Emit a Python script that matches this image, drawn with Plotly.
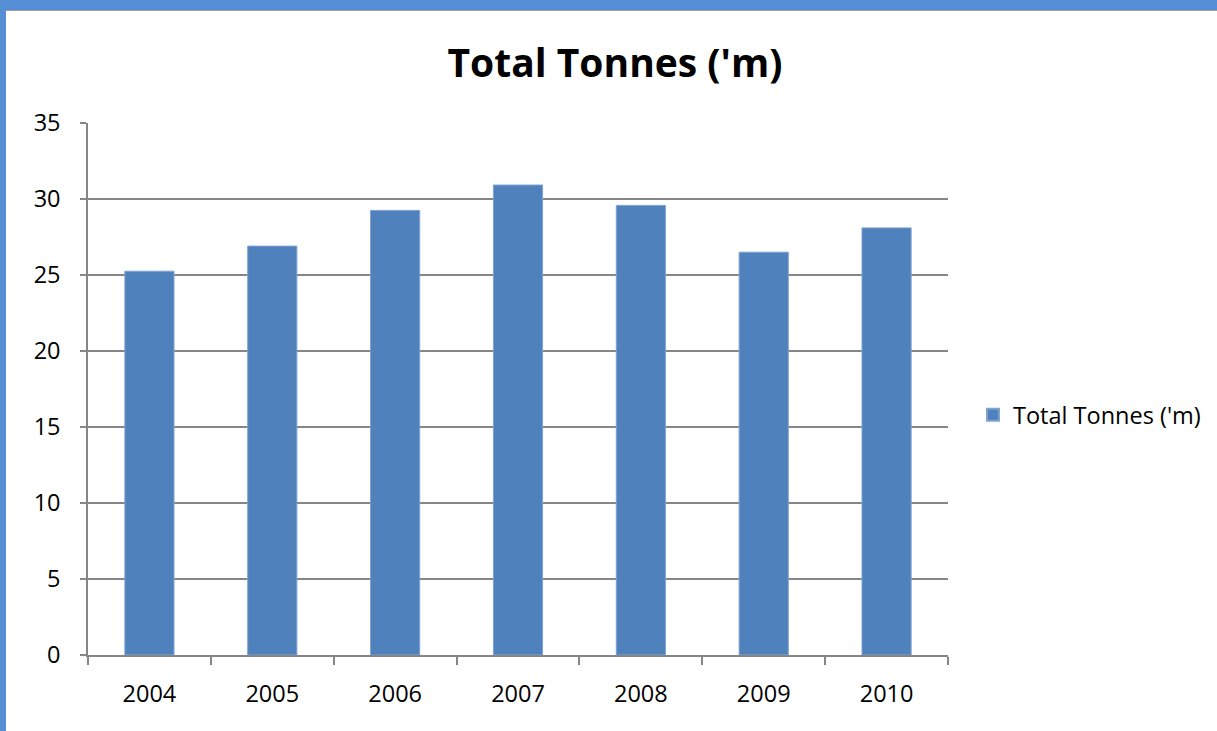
import plotly.graph_objects as go

years = ["2004", "2005", "2006", "2007", "2008", "2009", "2010"]
tonnes = [25.25, 26.9, 29.25, 30.92, 29.58, 26.5, 28.1]
y_ticks = [0, 5, 10, 15, 20, 25, 30, 35]
series_name = "Total Tonnes ('m)"
title_text = "Total Tonnes ('m)"

W, H = 1217, 731
L, R, T, B = 88, 948, 123, 655  # plot area pixel bounds


def px(x):
    return (x - L) / (R - L)


def py(y):
    return (B - y) / (B - T)


FONT = "Open Sans"
GRID = "#868686"
BLUE_FRAME = "#558ED5"

fig = go.Figure()
fig.add_trace(go.Bar(
    x=years, y=tonnes, name=series_name,
    marker=dict(color="#4F81BD", line=dict(color="#7FA2D0", width=1)),
    showlegend=True,
))

shapes = [
    dict(type="rect", xref="paper", yref="paper", x0=px(0), x1=px(W), y0=py(0), y1=py(10),
         fillcolor=BLUE_FRAME, line=dict(width=0), layer="above"),
    dict(type="line", xref="paper", yref="paper", x0=px(6), x1=px(W), y0=py(10.5), y1=py(10.5),
         line=dict(color="#A0A0A0", width=1.2), layer="above"),
    dict(type="rect", xref="paper", yref="paper", x0=px(0), x1=px(6), y0=py(0), y1=py(H),
         fillcolor=BLUE_FRAME, line=dict(width=0), layer="above"),
]

fig.update_layout(
    width=W, height=H, autosize=False,
    margin=dict(l=L, r=W - R, t=T, b=H - B, pad=0, autoexpand=False),
    paper_bgcolor="white", plot_bgcolor="white",
    font=dict(family=FONT, size=24, color="#000000"),
    title=dict(text="<b>" + title_text + "</b>", x=px(615), xref="paper", xanchor="center",
               y=1 - 63 / H, yanchor="middle", yref="container",
               font=dict(family=FONT, size=39, color="#000000")),
    bargap=0.6,
    shapes=shapes,
    legend=dict(x=px(1206), y=py(415), xanchor="right", yanchor="middle",
                font=dict(family=FONT, size=23.5), bgcolor="rgba(0,0,0,0)",
                itemsizing="constant", itemwidth=30),
    xaxis=dict(
        type="category", tickson="boundaries", ticks="outside", ticklen=8,
        tickcolor=GRID, tickwidth=1.5, showline=True, linecolor=GRID, linewidth=1.5,
        showgrid=False, tickfont=dict(family=FONT, size=23.5), ticklabelstandoff=17,
    ),
    yaxis=dict(
        range=[0, 35], tickvals=y_ticks, ticks="outside", ticklen=6, tickcolor=GRID,
        tickwidth=1.5, showline=True, linecolor=GRID, linewidth=1.5, showgrid=True,
        gridcolor=GRID, gridwidth=1.5, zeroline=False,
        tickfont=dict(family=FONT, size=23.5), ticklabelstandoff=15,
    ),
)

fig.write_html("out.html", config={"displayModeBar": False, "responsive": False},
               post_script="document.body.style.margin='0';document.documentElement.style.overflow='hidden';document.body.style.overflow='hidden';")
